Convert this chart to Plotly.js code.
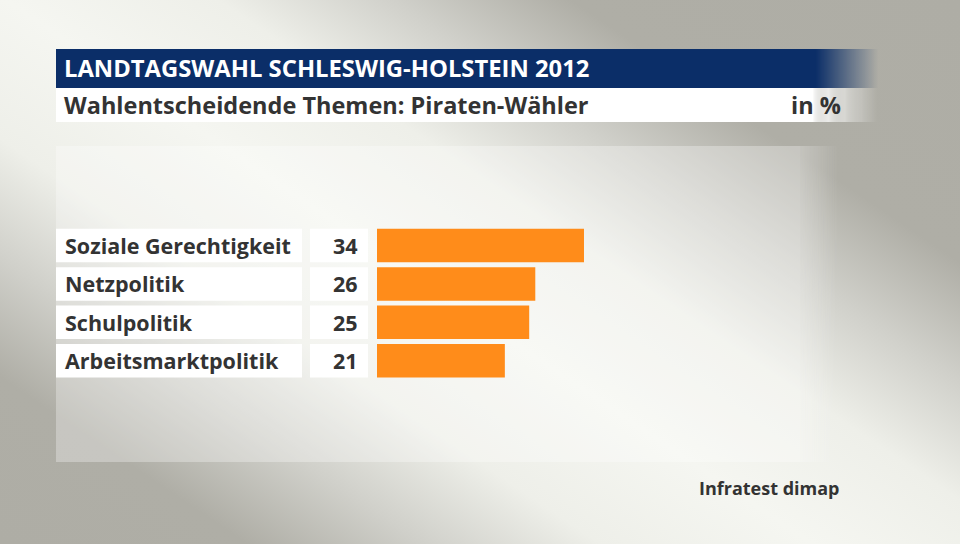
<!DOCTYPE html>
<html>
<head>
<meta charset="utf-8">
<script src="https://cdn.plot.ly/plotly-3.0.1.min.js"></script>
<style>
  html, body { margin: 0; padding: 0; }
  #myDiv {
    width: 960px; height: 544px;
    background: linear-gradient(214deg, #aeada5 0%, #afaea6 22%, #d0d0ca 32%, #eeefe9 42%, #f5f6f1 54%, #eeefe9 66%, #d0d0ca 76%, #afaea6 86%, #aeada5 100%);
  }
</style>
</head>
<body>
<div id="myDiv"></div>
<script>
var categories = ['Soziale Gerechtigkeit', 'Netzpolitik', 'Schulpolitik', 'Arbeitsmarktpolitik'];
var values = [34, 26, 25, 21];
var title = 'LANDTAGSWAHL SCHLESWIG-HOLSTEIN 2012';
var subtitle = 'Wahlentscheidende Themen: Piraten-Wähler';
var unit = 'in %';
var source = 'Infratest dimap';

var W = 960, H = 544;
var font = { family: 'Open Sans, sans-serif', weight: 700, color: '#333333' };

var trace1 = {
  x: values,
  y: categories.map(function (c, i) { return i; }),
  type: 'bar',
  orientation: 'h',
  width: 0.872,
  marker: { color: '#ff8c1a' },
  hoverinfo: 'none'
};

var shapes = [];
var annotations = [];

// light panel behind the bars
shapes.push({ type: 'rect', xref: 'paper', yref: 'paper', x0: 56 / W, x1: 800 / W, y0: 1 - 462 / H, y1: 1 - 146 / H,
  fillcolor: 'rgba(255,255,255,0.3)', line: { width: 0 }, layer: 'below' });

// title bars, with faded right end
shapes.push({ type: 'rect', xref: 'paper', yref: 'paper', x0: 56 / W, x1: 816 / W, y0: 1 - 88 / H, y1: 1 - 49 / H,
  fillcolor: '#0b2e68', line: { width: 0 }, layer: 'below' });
shapes.push({ type: 'rect', xref: 'paper', yref: 'paper', x0: 56 / W, x1: 812 / W, y0: 1 - 122 / H, y1: 1 - 88 / H,
  fillcolor: '#ffffff', line: { width: 0 }, layer: 'below' });
var N = 62;
for (var k = 0; k < N; k++) {
  var op = 1 - (k + 0.5) / N;
  shapes.push({ type: 'rect', xref: 'paper', yref: 'paper',
    x0: (816 + k * 62 / N) / W, x1: (816 + (k + 1) * 62 / N) / W, y0: 1 - 88 / H, y1: 1 - 49 / H,
    fillcolor: 'rgba(11,46,104,' + op + ')', line: { width: 0 }, layer: 'below' });
  shapes.push({ type: 'rect', xref: 'paper', yref: 'paper',
    x0: (812 + k * 66 / N) / W, x1: (812 + (k + 1) * 66 / N) / W, y0: 1 - 122 / H, y1: 1 - 88 / H,
    fillcolor: 'rgba(255,255,255,' + op + ')', line: { width: 0 }, layer: 'below' });
  shapes.push({ type: 'rect', xref: 'paper', yref: 'paper',
    x0: (800 + k * 40 / N) / W, x1: (800 + (k + 1) * 40 / N) / W, y0: 1 - 462 / H, y1: 1 - 146 / H,
    fillcolor: 'rgba(255,255,255,' + (0.3 * op) + ')', line: { width: 0 }, layer: 'below' });
}

// label and value boxes per row
categories.forEach(function (c, i) {
  shapes.push({ type: 'rect', xref: 'paper', yref: 'y', x0: 56 / W, x1: 302 / W, y0: i - 0.436, y1: i + 0.436,
    fillcolor: '#ffffff', line: { width: 0 }, layer: 'below' });
  shapes.push({ type: 'rect', xref: 'paper', yref: 'y', x0: 310 / W, x1: 368 / W, y0: i - 0.436, y1: i + 0.436,
    fillcolor: '#ffffff', line: { width: 0 }, layer: 'below' });
  annotations.push({ xref: 'paper', yref: 'y', x: 63 / W, y: i, xanchor: 'left', yanchor: 'middle',
    text: c, showarrow: false, font: Object.assign({}, font, { size: 21.5 }) });
  annotations.push({ xref: 'paper', yref: 'y', x: 360 / W, y: i, xanchor: 'right', yanchor: 'middle',
    text: String(values[i]), showarrow: false, font: Object.assign({}, font, { size: 21.5 }) });
});

annotations.push({ xref: 'paper', yref: 'paper', x: 62 / W, y: 1 - 68 / H, xanchor: 'left', yanchor: 'middle',
  text: title, showarrow: false, font: Object.assign({}, font, { size: 23.8, color: '#ffffff' }) });
annotations.push({ xref: 'paper', yref: 'paper', x: 62 / W, y: 1 - 105 / H, xanchor: 'left', yanchor: 'middle',
  text: subtitle, showarrow: false, font: Object.assign({}, font, { size: 23.5 }) });
annotations.push({ xref: 'paper', yref: 'paper', x: 843 / W, y: 1 - 105 / H, xanchor: 'right', yanchor: 'middle',
  text: unit, showarrow: false, font: Object.assign({}, font, { size: 23.5 }) });
annotations.push({ xref: 'paper', yref: 'paper', x: 842 / W, y: 1 - 488 / H, xanchor: 'right', yanchor: 'middle',
  text: source, showarrow: false, font: Object.assign({}, font, { size: 18 }) });

var layout = {
  width: W,
  height: H,
  margin: { l: 0, r: 0, t: 0, b: 0 },
  paper_bgcolor: 'rgba(0,0,0,0)',
  plot_bgcolor: 'rgba(0,0,0,0)',
  showlegend: false,
  xaxis: { domain: [377 / W, 1], range: [0, 583 / 6.088], visible: false, fixedrange: true },
  yaxis: { range: [7.774, -6.393], visible: false, fixedrange: true },
  shapes: shapes,
  annotations: annotations
};

Plotly.newPlot('myDiv', [trace1], layout, { displayModeBar: false, staticPlot: true });
</script>
</body>
</html>
